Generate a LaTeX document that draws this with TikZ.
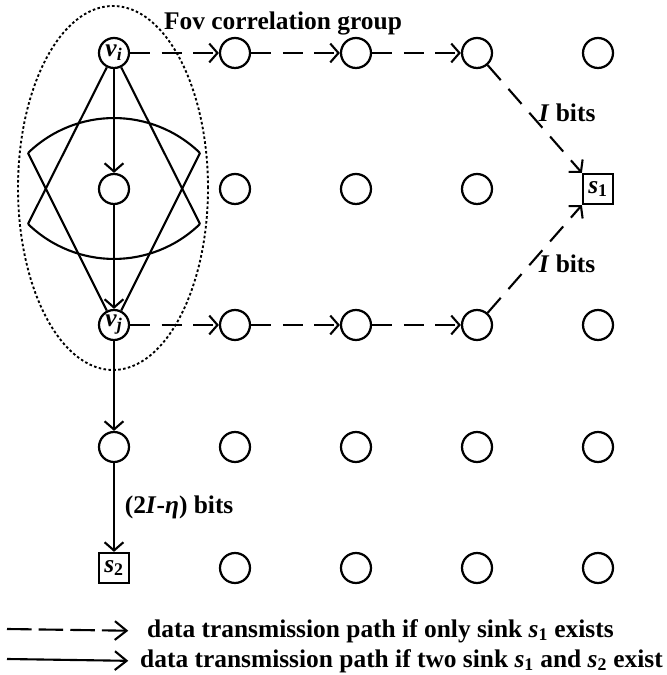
\documentclass[tikz,border=0pt]{standalone}
\usepackage{fontspec}
\setmainfont{Liberation Serif}
\usetikzlibrary{arrows.meta}

\tikzset{
  sensor/.style={draw, circle, line width=1.9pt, minimum size=0.9cm, inner sep=0pt},
  sink/.style={draw, rectangle, line width=1.9pt, minimum size=0.9cm, inner sep=0pt},
  hop/.style={line width=1.8pt, -{Straight Barb[length=7pt,width=16pt]}},
  dashhop/.style={hop, dash pattern=on 17pt off 10pt},
  fov/.style={line width=1.8pt},
  bits/.style={inner sep=1pt}
}

\begin{document}
\begin{tikzpicture}[x=0.03cm, y=0.03cm, font=\fontsize{21.7}{26}\selectfont\bfseries]
\useasboundingbox (0,0) rectangle (666,675);
% sensor grid, columns at -7+121c
\foreach \r/\y/\cols in {1/622/{2,3,4,5},2/486/{1,2,3,4},3/350/{2,3,4,5},4/228/{1,2,3,4,5},5/107/{2,3,4,5}}
  \foreach \c in \cols
  {\node[sensor] (n-\r-\c) at ({-7+121*\c},\y) {};}
\node[sensor] (vi) at (114,622) {\textit{v}\textsubscript{\textit{i}}};
\node[sensor] (vj) at (114,350) {\textit{v}\textsubscript{\textit{j}}};
\node[sink] (s1) at (598,486) {\textit{s}\textsubscript{1}};
\node[sink] (s2) at (114,107) {\textit{s}\textsubscript{2}};

% fov correlation group
\draw[line width=1.6pt, dash pattern=on 2.2pt off 2pt] (113,487) ellipse [x radius=95, y radius=182];
\node[anchor=base west] (fov) at (160,645) {Fov correlation group};
\coordinate (lt) at (28,522);
\coordinate (rt) at (200,522);
\coordinate (lb) at (28,451);
\coordinate (rb) at (200,451);
\draw[fov] (lb) -- (vi) -- (rb);
\draw[fov] (lb) to[out=-44,in=-136] (rb);
\draw[fov] (lt) -- (vj) -- (rt);
\draw[fov] (lt) to[out=44,in=136] (rt);

% two sinks
\draw[hop] (vi) -- (n-2-1);
\draw[hop] (n-2-1) -- (vj);
\draw[hop] (vj) -- (n-4-1);
\draw[hop] (n-4-1) -- (s2) node[midway, right, xshift=5pt] {(2\textit{I}-\textit{η}) bits};

% only s1
\foreach \r/\a in {1/vi,3/vj}
{\draw[dashhop] (\a) -- (n-\r-2);
 \draw[dashhop] (n-\r-2) -- (n-\r-3);
 \draw[dashhop] (n-\r-3) -- (n-\r-4);}
\draw[dashhop] (n-1-4) -- (s1.north west) node[bits, pos=0.52, anchor=base west] {\textit{I} bits};
\draw[dashhop] (n-3-4) -- (s1.south west) node[bits, pos=0.37, anchor=base west, xshift=12pt] {\textit{I} bits};

% legend
\coordinate (a1) at (7,46);
\coordinate (a2) at (7,16);
\node[inner sep=0pt, anchor=west] (lg1) at (147,44) {data transmission path if only sink \textit{s}\textsubscript{1} exists};
\node[inner sep=0pt, anchor=west] (lg2) at (140,14) {data transmission path if two sink \textit{s}\textsubscript{1} and \textit{s}\textsubscript{2} exist};
\draw[line width=1.8pt, dash pattern=on 21pt off 6pt, -{Straight Barb[length=10pt,width=16pt]}, shorten >=16pt] (a1) -- (lg1.west);
\draw[line width=1.8pt, -{Straight Barb[length=10pt,width=16pt]}, shorten >=10pt] (a2) -- (lg2.west);
\end{tikzpicture}
\end{document}
